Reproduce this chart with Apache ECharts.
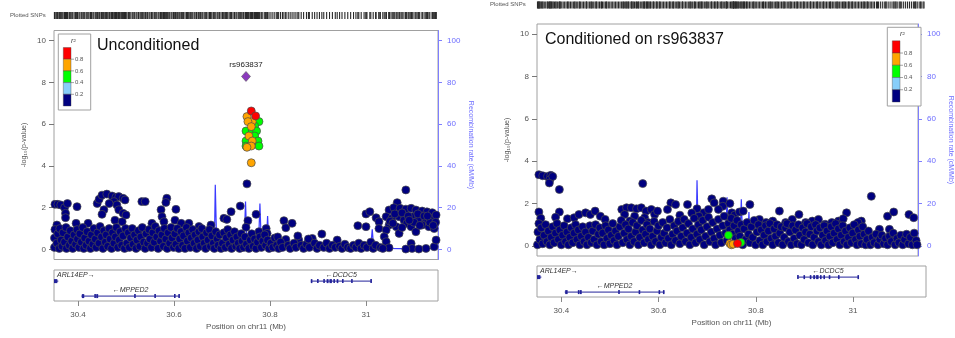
<!DOCTYPE html>
<html><head><meta charset="utf-8">
<script src="https://cdn.jsdelivr.net/npm/echarts@6/dist/echarts.min.js"></script>
<style>html,body{margin:0;padding:0;background:#fff;}#c{width:955px;height:338px;}</style>
</head><body><div id="c"></div>
<script>
// ---------------- DATA ----------------
const xTicks = [30.4, 30.6, 30.8, 31.0];
const logpTicks = [0, 2, 4, 6, 8, 10];
const recTicks = [0, 20, 40, 60, 80, 100];
const r2Breaks = [0.2, 0.4, 0.6, 0.8];
const r2Labels = ['0.2', '0.4', '0.6', '0.8'];
const r2Colors = ['#000080', '#87cefa', '#00ff00', '#ffa500', '#ff0000'];
const panelTitles = ['Unconditioned', 'Conditioned on rs963837'];
const indexSNP = ['rs963837', 30.750, 8.28];

// Unconditioned: SNPs with r2 < 0.2  [position Mb, -log10 p]
const leftSNPs = [
[30.352,2.16],[30.358,2.16],[30.364,2.13],[30.372,2.0],[30.378,2.2],[30.374,1.73],[30.374,1.52],[30.356,1.17],[30.398,2.05],[30.396,1.25],[30.421,1.25],
[30.440,2.2],[30.444,2.4],[30.450,2.6],[30.460,2.65],[30.471,2.56],[30.479,2.5],[30.485,2.53],[30.494,2.45],[30.498,2.37],[30.475,2.29],[30.481,2.13],[30.465,2.2],[30.454,1.9],[30.450,1.68],[30.485,1.9],[30.494,1.73],[30.477,1.4],[30.492,1.33],[30.500,1.65],
[30.533,2.29],[30.540,2.29],[30.554,1.25],[30.573,1.9],[30.585,2.45],[30.583,2.25],[30.575,1.57],[30.579,1.33],[30.604,1.92],[30.602,1.4],[30.615,1.25],[30.631,1.25],[30.652,1.1],[30.677,1.17],
[30.704,1.49],[30.710,1.44],[30.719,1.81],[30.738,2.08],[30.752,3.14],[30.754,1.38],[30.750,1.06],[30.771,1.68],[30.777,0.85],[30.792,1.0],[30.794,0.77],
[30.829,1.38],[30.833,1.04],[30.846,1.25],[30.833,0.48],[30.860,0.45],[30.888,0.53],[30.908,0.74],[30.940,0.45],
[30.983,1.14],[31.000,1.7],[31.008,1.81],[31.021,1.52],[31.027,1.33],[31.000,1.09],[31.027,1.0],
[31.065,2.24],[31.083,2.85],[31.048,1.89],[31.058,2.0],[31.071,1.97],[31.083,1.93],[31.094,1.97],[31.104,1.89],[31.117,1.84],[31.127,1.8],[31.138,1.76],
[31.042,1.57],[31.054,1.49],[31.069,1.57],[31.079,1.41],[31.096,1.57],[31.110,1.49],[31.125,1.41],[31.138,1.49],[31.146,1.65],
[31.048,1.17],[31.063,1.09],[31.085,1.25],[31.094,1.09],[31.117,1.17],[31.131,1.09],[31.142,1.0],[31.042,0.93],[31.069,0.77],[31.104,0.85],[31.038,0.61],
[31.050,1.35],[31.060,1.7],[31.075,1.75],[31.088,1.6],[31.100,1.3],[31.108,1.7],[31.121,1.6],[31.133,1.3],[31.145,1.3],[31.056,1.25],[31.090,1.4],[31.112,1.15],[31.128,1.6],[31.075,1.05],[31.140,1.15],
[31.042,0.37],[31.048,0.08],[31.094,0.29],[31.096,0.05],[31.125,0.05],[31.142,0.13],[31.146,0.45],[31.083,0.02],[31.110,0.02],
[30.351,0.1],[30.351,0.55],[30.352,0.95],[30.356,0.3],[30.358,0.75],[30.361,0.05],[30.362,1.0],[30.365,0.45],[30.367,0.15],[30.369,0.8],[30.372,0.35],[30.375,1.05],[30.376,0.05],[30.379,0.6],[30.382,0.2],[30.384,0.9],[30.387,0.4],[30.389,0.05],[30.392,0.7],[30.395,0.25],[30.398,0.95],[30.399,0.5],
[30.402,0.1],[30.404,0.75],[30.407,0.35],[30.410,1.05],[30.412,0.05],[30.414,0.55],[30.417,0.2],[30.419,0.85],[30.423,0.4],[30.426,0.05],[30.428,0.7],[30.431,0.25],[30.433,1.0],[30.436,0.5],[30.438,0.1],[30.441,0.8],[30.444,0.3],[30.446,1.1],[30.449,0.6],[30.452,0.05],[30.454,0.9],[30.457,0.35],[30.459,0.7],[30.462,0.15],[30.465,1.0],[30.467,0.5],[30.470,0.05],[30.472,0.8],[30.475,0.3],[30.478,0.6],[30.480,1.05],[30.483,0.1],[30.486,0.45],[30.488,0.85],[30.491,0.2],[30.494,0.65],[30.497,0.05],[30.499,1.0],
[30.502,0.3],[30.505,0.8],[30.507,0.1],[30.510,0.55],[30.513,1.0],[30.515,0.25],[30.518,0.7],[30.521,0.05],[30.523,0.45],[30.526,0.9],[30.529,0.15],[30.531,0.6],[30.534,1.05],[30.537,0.35],[30.540,0.05],[30.542,0.75],[30.545,0.3],[30.548,0.95],[30.550,0.5],[30.553,0.1],[30.556,0.8],[30.559,0.35],[30.561,1.1],[30.564,0.6],[30.567,0.05],[30.569,0.9],[30.572,0.4],[30.575,0.7],[30.578,0.15],[30.580,1.0],[30.583,0.5],[30.586,0.05],[30.588,0.8],[30.591,0.3],[30.594,1.05],[30.596,0.55],[30.599,0.1],
[30.602,0.75],[30.604,0.25],[30.607,1.0],[30.610,0.05],[30.612,0.5],[30.615,0.85],[30.618,0.2],[30.620,0.65],[30.623,0.05],[30.626,1.05],[30.628,0.4],[30.631,0.8],[30.634,0.1],[30.636,0.55],[30.639,0.95],[30.642,0.3],[30.644,0.7],[30.647,0.05],[30.650,0.45],[30.652,0.85],[30.655,0.15],[30.658,1.0],[30.660,0.6],[30.663,0.3],[30.666,0.05],[30.668,0.8],[30.671,0.45],[30.674,0.95],[30.676,0.15],[30.679,0.65],[30.682,0.3],[30.684,0.05],[30.687,0.85],[30.690,0.5],[30.692,0.2],[30.695,0.7],[30.698,0.05],
[30.701,0.3],[30.704,0.8],[30.707,0.1],[30.709,0.55],[30.712,0.95],[30.715,0.25],[30.718,0.7],[30.720,0.05],[30.723,0.45],[30.726,0.85],[30.729,0.15],[30.731,0.6],[30.734,0.3],[30.737,0.05],[30.740,0.75],[30.742,0.4],[30.745,0.1],[30.748,0.6],[30.751,0.25],[30.756,0.05],[30.759,0.45],[30.762,0.75],[30.765,0.15],[30.768,0.5],[30.771,0.05],[30.774,0.35],[30.779,0.6],[30.782,0.1],[30.785,0.4],[30.789,0.7],[30.791,0.2],[30.795,0.45],[30.798,0.05],
[30.802,0.3],[30.806,0.1],[30.810,0.55],[30.814,0.2],[30.816,0.6],[30.818,0.05],[30.822,0.35],[30.826,0.1],[30.838,0.2],[30.842,0.05],[30.850,0.3],[30.854,0.1],[30.858,0.65],[30.865,0.2],[30.870,0.05],[30.876,0.25],[30.880,0.5],[30.882,0.1],[30.893,0.3],[30.898,0.05],[30.903,0.2],[30.912,0.1],[30.918,0.3],[30.924,0.05],[30.930,0.2],[30.936,0.1],[30.945,0.15],[30.950,0.05],[30.956,0.25],[30.962,0.1],[30.968,0.05],[30.974,0.2],[30.979,0.1],
[30.985,0.3],[30.990,0.05],[30.996,0.2],[31.002,0.1],[31.010,0.35],[31.015,0.05],[31.020,0.2],[31.030,0.1],[31.035,0.05]
];
// Unconditioned: SNPs in LD with rs963837 [position, -log10 p, r2]
const leftLDSNPs = [
[30.761,6.63,0.9],[30.770,6.39,0.9],[30.752,6.36,0.7],[30.763,6.12,0.7],[30.754,6.12,0.7],[30.777,6.12,0.5],[30.761,5.88,0.7],[30.768,5.91,0.5],[30.750,5.67,0.5],[30.763,5.67,0.5],[30.772,5.67,0.5],[30.756,5.43,0.7],[30.768,5.43,0.5],[30.750,5.19,0.5],[30.763,5.19,0.7],[30.775,5.19,0.5],[30.750,4.95,0.5],[30.761,4.95,0.7],[30.777,4.95,0.5],[30.752,4.89,0.7],[30.761,4.15,0.7]
];

// Conditioned on rs963837: SNPs with r2 < 0.2
const rightSNPs = [
[30.354,3.36],[30.362,3.31],[30.372,3.28],[30.379,3.33],[30.377,3.13],[30.376,2.97],[30.383,3.28],[30.397,2.66],[30.354,1.6],[30.397,1.6],[30.358,1.3],[30.389,1.35],
[30.414,1.28],[30.428,1.33],[30.438,1.48],[30.452,1.56],[30.462,1.48],[30.472,1.64],[30.483,1.4],[30.493,1.25],[30.572,2.94],
[30.528,1.72],[30.538,1.8],[30.548,1.8],[30.559,1.75],[30.569,1.8],[30.579,1.64],[30.590,1.72],[30.534,1.48],[30.555,1.4],[30.576,1.33],[30.597,1.48],[30.545,1.17],[30.583,1.1],[30.603,1.64],
[30.631,2.03],[30.641,1.95],[30.666,1.95],[30.624,1.72],[30.686,1.75],[30.700,1.56],[30.717,2.22],[30.722,2.03],[30.741,2.11],[30.740,1.87],[30.755,2.0],[30.759,1.56],[30.731,1.72],[30.710,1.72],[30.650,1.45],[30.675,1.55],[30.690,1.4],[30.765,1.45],[30.775,1.6],
[30.783,1.64],[30.797,1.95],
[30.817,1.25],[30.831,1.1],[30.845,1.17],[30.859,1.64],[30.872,1.1],[30.886,1.25],[30.900,1.48],[30.914,1.1],[30.928,1.17],[30.941,1.25],[30.955,1.02],[30.969,1.1],[30.983,1.17],[31.000,1.56],[30.993,1.28],[31.031,1.17],[31.024,1.1],
[31.052,2.34],[31.086,1.4],[31.099,1.6],[31.090,0.78],[31.069,0.78],[31.131,1.48],[31.141,1.33],[31.128,0.47],
[30.351,0.05],[30.352,0.65],[30.354,1.05],[30.356,0.3],[30.359,0.85],[30.362,0.1],[30.365,0.5],[30.368,1.0],[30.371,0.2],[30.374,0.7],[30.377,0.05],[30.380,0.4],[30.383,0.9],[30.386,0.15],[30.389,0.6],[30.392,1.05],[30.395,0.3],[30.398,0.75],[30.401,0.05],[30.404,0.5],[30.407,0.95],[30.410,0.2],[30.413,0.65],[30.416,0.05],[30.419,0.4],[30.422,0.85],[30.425,0.15],[30.428,0.6],[30.431,1.0],[30.434,0.3],[30.437,0.75],[30.440,0.05],[30.443,0.45],[30.446,0.9],[30.449,0.2],
[30.452,0.65],[30.455,0.05],[30.458,0.4],[30.461,0.95],[30.464,0.15],[30.467,0.7],[30.470,0.3],[30.473,1.0],[30.476,0.05],[30.479,0.55],[30.482,0.85],[30.485,0.2],[30.488,0.6],[30.491,0.05],[30.494,0.95],[30.497,0.35],[30.500,0.75],[30.503,0.1],[30.506,0.5],[30.509,1.05],[30.512,0.25],[30.515,0.7],[30.518,0.05],[30.521,0.45],[30.524,0.9],[30.527,1.2],[30.530,0.15],[30.533,0.6],[30.536,1.0],[30.539,0.3],[30.542,0.8],[30.545,0.05],[30.548,0.45],[30.551,1.1],
[30.554,0.2],[30.557,0.65],[30.560,0.95],[30.563,0.05],[30.566,0.4],[30.569,1.2],[30.572,0.75],[30.575,0.15],[30.578,0.55],[30.581,1.0],[30.584,0.3],[30.587,0.8],[30.590,0.05],[30.593,0.45],[30.596,1.15],[30.599,0.2],[30.602,0.7],[30.605,0.95],[30.608,0.05],[30.611,0.4],[30.614,1.1],[30.617,0.6],[30.620,0.15],[30.623,0.85],[30.626,0.35],[30.629,1.25],[30.632,0.05],[30.635,0.55],[30.638,0.95],[30.641,0.25],[30.644,0.7],[30.647,1.15],[30.650,0.1],
[30.653,0.45],[30.656,0.85],[30.659,1.25],[30.662,0.2],[30.665,0.6],[30.668,1.05],[30.671,0.05],[30.674,0.4],[30.677,0.8],[30.680,1.3],[30.683,0.15],[30.686,0.55],[30.689,1.0],[30.692,0.3],[30.695,0.75],[30.698,1.2],[30.701,0.05],[30.704,0.45],[30.707,0.9],[30.710,1.35],[30.713,0.2],[30.716,0.65],[30.719,1.1],[30.722,0.35],[30.725,0.05],[30.728,0.8],[30.731,1.25],[30.734,0.5],[30.737,0.15],[30.740,0.95],[30.743,1.4],[30.746,0.6],[30.749,0.25],
[30.752,1.05],[30.755,0.75],[30.758,1.3],[30.761,0.55],[30.764,0.95],[30.767,0.35],[30.770,1.2],[30.773,0.7],[30.776,0.45],[30.779,1.0],[30.782,0.05],[30.785,0.8],[30.788,0.3],[30.791,1.1],[30.794,0.55],[30.797,0.15],[30.800,0.9],[30.803,0.4],[30.806,1.2],[30.809,0.05],[30.812,0.65],[30.815,1.0],[30.818,0.25],[30.821,0.75],[30.824,0.05],[30.827,0.5],[30.830,0.95],[30.833,0.2],[30.836,0.7],[30.839,1.05],[30.842,0.35],[30.845,0.05],[30.848,0.8],
[30.851,0.45],[30.854,1.0],[30.857,0.15],[30.860,0.6],[30.863,0.9],[30.866,0.05],[30.869,0.4],[30.872,0.85],[30.875,1.05],[30.878,0.2],[30.881,0.65],[30.884,0.05],[30.887,0.95],[30.890,0.35],[30.893,0.75],[30.896,0.1],[30.899,1.0],[30.902,0.5],[30.905,0.05],[30.908,0.85],[30.911,0.3],[30.914,0.65],[30.917,1.05],[30.920,0.15],[30.923,0.55],[30.926,0.9],[30.929,0.05],[30.932,0.4],[30.935,1.0],[30.938,0.7],[30.941,0.2],[30.944,0.85],[30.947,0.05],
[30.950,0.5],[30.953,0.95],[30.956,0.25],[30.959,0.7],[30.962,0.05],[30.965,0.45],[30.968,0.9],[30.971,0.15],[30.974,0.6],[30.977,1.05],[30.980,0.3],[30.983,0.8],[30.986,0.05],[30.989,0.5],[30.992,0.95],[30.995,0.2],[30.998,0.7],[31.001,0.05],[31.004,0.4],[31.007,0.85],[31.010,0.15],[31.013,0.6],[31.016,1.0],[31.019,0.3],[31.022,0.05],[31.025,0.75],[31.028,0.45],[31.031,0.1],[31.034,0.9],[31.037,0.55],[31.040,0.05],[31.043,0.3],[31.046,0.7],
[31.050,0.05],[31.054,0.4],[31.058,0.15],[31.062,0.55],[31.066,0.05],[31.070,0.3],[31.074,0.5],[31.078,0.1],[31.082,0.35],[31.086,0.05],[31.090,0.45],[31.094,0.2],[31.098,0.6],[31.102,0.05],[31.106,0.35],[31.110,0.15],[31.114,0.5],[31.118,0.05],[31.122,0.3],[31.126,0.55],[31.130,0.1],[31.134,0.4],[31.138,0.05],[31.142,0.6],[31.146,0.25],[31.148,0.05]
];
const rightLDSNPs = [
[30.752,0.5,0.5],[30.755,0.11,0.7],[30.758,0.05,0.7],[30.762,0.08,0.7],[30.771,0.11,0.9],[30.778,0.16,0.5]
];

// Recombination rate (cM/Mb)
const recPos  = [30.350,30.400,30.450,30.500,30.550,30.600,30.650,30.684,30.686,30.689,30.720,30.746,30.749,30.752,30.776,30.779,30.782,30.792,30.795,30.798,30.850,30.900,30.950,31.000,31.010,31.013,31.016,31.037,31.040,31.044,31.100,31.150];
const recRate = [1.5,1.0,0.8,1.2,0.9,1.3,1.0,0.8,31,1.2,1.0,1.2,23,2.0,1.5,22,1.5,1.0,16,1.0,0.8,0.6,0.7,1.0,1.2,9.6,1.0,1.0,5,0.5,0.3,0.5];

// Genes
const geneNames  = ['ARL14EP', 'MPPED2', 'DCDC5'];
const geneStart  = [30.344, 30.407, 30.885];
const geneEnd    = [30.359, 30.612, 31.012];
const geneStrand = [1, -1, -1];
const geneRow    = [1, 0, 1];
const geneExons  = [
  [[30.350,30.357]],
  [[30.408,30.413],[30.434,30.437],[30.438,30.442],[30.517,30.519],[30.559,30.561],[30.600,30.602],[30.609,30.612]],
  [[30.885,30.887],[30.898,30.900],[30.911,30.913],[30.918,30.922],[30.924,30.929],[30.932,30.935],[30.939,30.941],[30.950,30.952],[30.969,30.971],[31.009,31.011]]
];

// ---------------- LAYOUT / STYLE ----------------
const FONT = '"Liberation Sans", Arial, Helvetica, sans-serif';
const XMIN = 30.35, XMAX = 31.15;
const FRAME = '#a0a0a0';
const REC_AXIS = '#7f7fff';
const REC_LINE = '#3a3aff';
const GENE_COLOR = '#23239a';
const rowLevels = [0.95, 3.85];

const layout = [
  { rug:{left:54,top:12,width:384,height:7}, main:{left:54,top:30.5,width:384,height:229}, gene:{left:54,top:270,width:384,height:31},
    title:[97,47], legend:[58.3,34,32.4,76], snpLabel:[10,16], nameGap:22, labelMargin:10 },
  { rug:{left:537,top:1.5,width:388,height:7}, main:{left:537,top:24,width:389,height:232}, gene:{left:537,top:266,width:389,height:31},
    title:[545,41], legend:[887.3,27.3,33.7,78.7], snpLabel:[490,5], nameGap:22, labelMargin:10 }
];

function r2Color(r){ let i=0; while(i<r2Breaks.length && r>=r2Breaks[i]) i++; return r2Colors[i]; }

const mctx = document.createElement('canvas').getContext('2d');
function textW(t, size, style){ mctx.font = (style||'')+' '+size+'px '+FONT; return mctx.measureText(t).width; }

function geneRender(params, api){
  const i = api.value(2);
  const cs = params.coordSys;
  const lvl = rowLevels[geneRow[i]];
  const p0 = api.coord([geneStart[i], lvl]);
  const p1 = api.coord([geneEnd[i], lvl]);
  const x0 = Math.max(p0[0], cs.x), x1 = Math.min(p1[0], cs.x + cs.width);
  const y = p0[1];
  const ch = [];
  if (x1 > x0) ch.push({type:'line', shape:{x1:x0,y1:y,x2:x1,y2:y}, style:{stroke:GENE_COLOR, lineWidth:1}});
  geneExons[i].forEach(function(e){
    const a = api.coord([e[0], lvl])[0], b = api.coord([e[1], lvl])[0];
    const ea = Math.max(a, cs.x), eb = Math.min(b, cs.x + cs.width);
    if (eb <= ea) return;
    ch.push({type:'rect', shape:{x:ea, y:y-2, width:Math.max(eb-ea,1.6), height:4}, style:{fill:GENE_COLOR}});
  });
  const txt = geneStrand[i] > 0 ? geneNames[i] + '\u2192' : '\u2190' + geneNames[i];
  const w = textW(txt, 7, 'italic');
  let cx = (p0[0] + p1[0]) / 2;
  cx = Math.max(cx, cs.x + 3 + w/2);
  cx = Math.min(cx, cs.x + cs.width - 3 - w/2);
  ch.push({type:'text', style:{text:txt, x:cx, y:y-6, align:'center', verticalAlign:'middle', fontSize:7, fontStyle:'italic', fontFamily:FONT, fill:'#333'}});
  return {type:'group', children:ch};
}

const grids = [], xAxes = [], yAxes = [], series = [], graphics = [];
const panelData = [
  {snps:leftSNPs, ld:leftLDSNPs, showIndex:true},
  {snps:rightSNPs, ld:rightLDSNPs, showIndex:false}
];

layout.forEach(function(L, p){
  const gBase = grids.length, yBase = yAxes.length;
  grids.push(Object.assign({show:false}, L.rug));
  grids.push(Object.assign({show:true, borderColor:FRAME, borderWidth:1}, L.main));
  grids.push(Object.assign({show:true, borderColor:FRAME, borderWidth:1}, L.gene));
  xAxes.push({type:'value', gridIndex:gBase, min:XMIN, max:XMAX, show:false});
  xAxes.push({type:'value', gridIndex:gBase+1, min:XMIN, max:XMAX, show:false});
  xAxes.push({type:'value', gridIndex:gBase+2, min:XMIN, max:XMAX, position:'bottom',
    axisLine:{show:false}, splitLine:{show:false},
    axisTick:{show:true, length:5, lineStyle:{color:'#888'}, customValues:xTicks},
    axisLabel:{customValues:xTicks, fontSize:8, color:'#555', fontFamily:FONT, margin:L.labelMargin,
      formatter:function(v){ return String(Number(v.toFixed(1))); }},
    name:'Position on chr11 (Mb)', nameLocation:'middle', nameGap:L.nameGap,
    nameTextStyle:{fontSize:8, color:'#555', fontFamily:FONT}});
  yAxes.push({type:'value', gridIndex:gBase, min:0, max:1, show:false});
  yAxes.push({type:'value', gridIndex:gBase+1, min:-0.48, max:10.48, position:'left',
    axisLine:{show:false}, splitLine:{show:false},
    axisTick:{show:true, length:5, lineStyle:{color:'#777'}, customValues:logpTicks},
    axisLabel:{customValues:logpTicks, fontSize:8, color:'#555', fontFamily:FONT, margin:8},
    name:'-log\u2081\u2080(p-value)', nameLocation:'middle', nameGap:26, nameRotate:90,
    nameTextStyle:{fontSize:7, color:'#555', fontFamily:FONT}});
  yAxes.push({type:'value', gridIndex:gBase+1, min:-4.8, max:104.8, position:'right',
    axisLine:{show:true, lineStyle:{color:REC_AXIS, width:1}}, splitLine:{show:false},
    axisTick:{show:true, length:4, lineStyle:{color:REC_AXIS}, customValues:recTicks},
    axisLabel:{customValues:recTicks, fontSize:8, color:'#6b6bff', fontFamily:FONT, margin:9},
    name:'Recombination rate (cM/Mb)', nameLocation:'middle', nameGap:29, nameRotate:-90,
    nameTextStyle:{fontSize:7, color:'#6b6bff', fontFamily:FONT}});
  yAxes.push({type:'value', gridIndex:gBase+2, min:0, max:6, show:false});

  const D = panelData[p];
  const rugPos = D.snps.map(function(d){return [d[0], 0.5];})
    .concat(D.ld.map(function(d){return [d[0], 0.5];}));
  if (D.showIndex) rugPos.push([indexSNP[1], 0.5]);
  series.push({type:'scatter', xAxisIndex:gBase, yAxisIndex:yBase, data:rugPos, symbol:'rect', symbolSize:[1.1, L.rug.height],
    itemStyle:{color:'#2a2a2a', opacity:1}, silent:true, z:2});
  series.push({type:'line', xAxisIndex:gBase+1, yAxisIndex:yBase+2, data:recPos.map(function(x,i){return [x, recRate[i]];}),
    showSymbol:false, lineStyle:{color:REC_LINE, width:1.2}, silent:true, z:2, clip:true});
  series.push({type:'scatter', xAxisIndex:gBase+1, yAxisIndex:yBase+1, data:D.snps, symbol:'circle', symbolSize:8,
    itemStyle:{color:r2Colors[0], borderColor:'#4a4a4a', borderWidth:0.7, opacity:1}, silent:true, z:3});
  series.push({type:'scatter', xAxisIndex:gBase+1, yAxisIndex:yBase+1,
    data:D.ld.slice().sort(function(a,b){return a[2]-b[2];}).map(function(d){return {value:[d[0],d[1]], itemStyle:{color:r2Color(d[2])}};}),
    symbol:'circle', symbolSize:8, itemStyle:{borderColor:'#4a4a4a', borderWidth:0.7, opacity:1}, silent:true, z:4});
  if (D.showIndex){
    series.push({type:'scatter', xAxisIndex:gBase+1, yAxisIndex:yBase+1,
      data:[{name:indexSNP[0], value:[indexSNP[1], indexSNP[2]]}], symbol:'diamond', symbolSize:[9,10],
      itemStyle:{color:'#8b3bbd', borderColor:'#5a5a5a', borderWidth:0.6, opacity:1},
      label:{show:true, position:'top', distance:2, formatter:'{b}', fontSize:8, color:'#222', fontFamily:FONT}, silent:true, z:5});
  }
  series.push({type:'custom', xAxisIndex:gBase+2, yAxisIndex:yBase+3, renderItem:geneRender, clip:true,
    data:geneNames.map(function(n,i){return [geneStart[i], geneEnd[i], i];}), silent:true, z:3});

  graphics.push({type:'text', left:L.title[0], top:L.title[1]-9, style:{text:panelTitles[p], fontSize:16, fontFamily:FONT, fill:'#111'}, z:10});
  graphics.push({type:'text', left:L.snpLabel[0], top:L.snpLabel[1]-4, style:{text:'Plotted SNPs', fontSize:6, fontFamily:FONT, fill:'#555'}, z:10});
  const lx = L.legend[0], ly = L.legend[1], lw = L.legend[2], lh = L.legend[3];
  graphics.push({type:'rect', shape:{x:lx, y:ly, width:lw, height:lh}, style:{fill:'#fff', stroke:FRAME, lineWidth:1}, z:10});
  graphics.push({type:'text', style:{text:'r\u00b2', x:lx+15, y:ly+7, align:'center', verticalAlign:'middle', fontSize:7, fontStyle:'italic', fontFamily:FONT, fill:'#444'}, z:11});
  const barTop = ly + 13.5, barBot = ly + lh - 4, bh = (barBot - barTop) / 5, bx = lx + 5, bw = 7.7;
  for (let k = 0; k < 5; k++){
    graphics.push({type:'rect', shape:{x:bx, y:barTop + k*bh, width:bw, height:bh}, style:{fill:r2Colors[4-k], stroke:'#444', lineWidth:0.4}, z:11});
  }
  for (let k = 0; k < 4; k++){
    const yy = barTop + (k+1)*bh;
    graphics.push({type:'line', shape:{x1:bx+bw, y1:yy, x2:bx+bw+3, y2:yy}, style:{stroke:'#666', lineWidth:0.6}, z:11});
    graphics.push({type:'text', style:{text:r2Labels[3-k], x:bx+bw+4, y:yy, verticalAlign:'middle', fontSize:6, fontFamily:FONT, fill:'#555'}, z:11});
  }
});

const chart = echarts.init(document.getElementById('c'), null, {renderer:'canvas'});
chart.setOption({
  animation:false,
  backgroundColor:'#fff',
  textStyle:{fontFamily:FONT},
  grid:grids, xAxis:xAxes, yAxis:yAxes, series:series, graphic:graphics
});
</script></body></html>
